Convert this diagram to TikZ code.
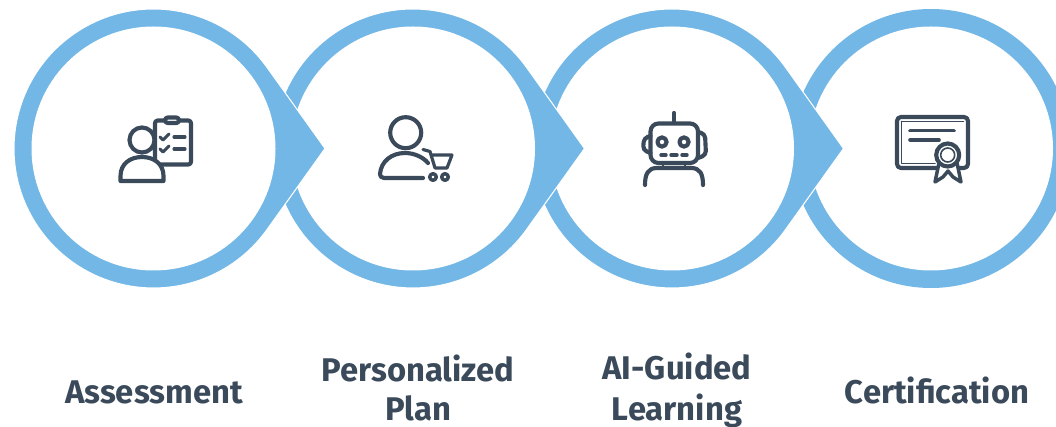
\documentclass[tikz,border=0pt]{standalone}
\usepackage{fontspec}
\setmainfont{Fira Sans}[UprightFont=* Bold]
\usetikzlibrary{calc}
\definecolor{ringblue}{HTML}{72B7E6}
\definecolor{iconink}{HTML}{3B4A5A}
\tikzset{
  ink/.style={draw=iconink,line width=3.1pt,line cap=round,line join=round},
  thin ink/.style={draw=iconink,line width=1.2pt,line cap=round,line join=round},
  label text/.style={text=iconink,font=\fontsize{24.6}{16}\selectfont,align=center,inner sep=0pt,anchor=base}
}
% #1 centre x: a ring with an arrow head pointing right to the next ring
\newcommand{\ringtear}[1]{%
  \fill[ringblue,draw=white,line width=.8pt] (#1+171.5,148.5) -- ($(#1,148.5)+(-35.6:139.5)$)
     arc[start angle=-35.6,end angle=-324.4,radius=139.5] -- cycle;
  \fill[white] (#1,148.5) circle[radius=122];
}
\begin{document}
\begin{tikzpicture}[x=.75pt,y=-.75pt]
\useasboundingbox (0,0) rectangle (1056,427);
\clip (0,0) rectangle (1056,427);
% rings, back to front
\fill[ringblue] (931,148.5) circle[radius=139.5];
\fill[white] (931,148.5) circle[radius=122];
\ringtear{672}
\ringtear{413}
\ringtear{153.5}
% icon 1
\draw[ink,fill=white,rounded corners=2pt] (155,120.5) rectangle (191,164.5);
\draw[ink,fill=white,rounded corners=2pt] (165,123) -- (165,117.5) -- (179,117.5) -- (179,123) -- cycle;
\draw[ink,line width=2.3pt] (160,137) -- (163,140) -- (169,134);
\draw[ink,line width=2.3pt] (174,137) -- (185,137);
\draw[ink,line width=2.3pt] (160,149) -- (163,152) -- (169,146);
\draw[ink,line width=2.3pt] (174,149) -- (185,149);
\draw[ink,fill=white] (142,140) circle[radius=12.5];
\draw[ink,fill=white] (120.5,176) .. controls (120.5,164) and (130,157) .. (142,157)
   .. controls (154,157) and (163.5,164) .. (163.5,176) -- (163.5,181) -- (120.5,181) -- cycle;
% icon 2
\draw[ink] (405.7,132.7) circle[radius=15.5];
\draw[ink] (423,178) -- (384,178) .. controls (381,178) and (380,176) .. (380,174)
   .. controls (381,161) and (392,153) .. (405,153) .. controls (414,153) and (423,157) .. (428,163);
\draw[ink,line width=2.4pt] (423,149.5) -- (430,151.5) -- (435,168) -- (447,168) -- (452,155) -- (432,155);
\draw[ink,line width=2.6pt] (433,177) circle[radius=3.3];
\draw[ink,line width=2.6pt] (445,177) circle[radius=3.3];
% icon 3
\draw[ink] (674,113) -- (674,123);
\draw[ink,rounded corners=6pt] (650.5,123.5) rectangle (698,163);
\draw[ink,rounded corners=3pt] (650.5,136) -- (644,138) -- (643,150) -- (650.5,153);
\draw[ink,rounded corners=3pt] (698,132) -- (705,134) -- (706,155) -- (698,158);
\draw[ink] (662,142) circle[radius=4.6];
\draw[ink] (684,142) circle[radius=4.6];
\draw[ink,line width=2.6pt] (661,155) -- (666,155);
\draw[ink,line width=2.6pt] (671,155) -- (677,155);
\draw[ink,line width=2.6pt] (682,155) -- (687,155);
\draw[ink,line width=2pt] (663,164) -- (663,168);
\draw[ink,line width=2pt] (685,164) -- (685,168);
\draw[ink] (645,185) .. controls (645,174) and (648,168) .. (657,168) -- (691,168)
   .. controls (700,168) and (703,174) .. (703,185);
% icon 4
\draw[ink,rounded corners=3pt] (897,117) rectangle (968,168);
\draw[thin ink] (901.5,121.5) -- (963.5,121.5);
\draw[thin ink] (901.5,121.5) -- (901.5,163.5) -- (935,163.5);
\draw[ink,line width=2.7pt] (910,130.7) -- (954,130.7);
\draw[ink,line width=2.7pt] (910,140) -- (939,140);
\draw[ink,line width=2.6pt,fill=white] (939,163) -- (935,182) -- (943,177) -- (948,171) -- (953,177) -- (961,182) -- (957,163) -- cycle;
\draw[ink,fill=white] (947.7,155) circle[radius=11.5];
\draw[thin ink,fill=white] (947.7,155) circle[radius=7];
% labels
\node[label text] (assess) at (154,403) {Assessment};
\node[label text] (plan) at (418,420.3) {Personalized\\[9pt]Plan};
\node[label text] (guided) at (677,420.3) {AI-Guided\\[9pt]Learning};
\node[label text] (cert) at (937,403) {Certification};
\end{tikzpicture}
\end{document}
